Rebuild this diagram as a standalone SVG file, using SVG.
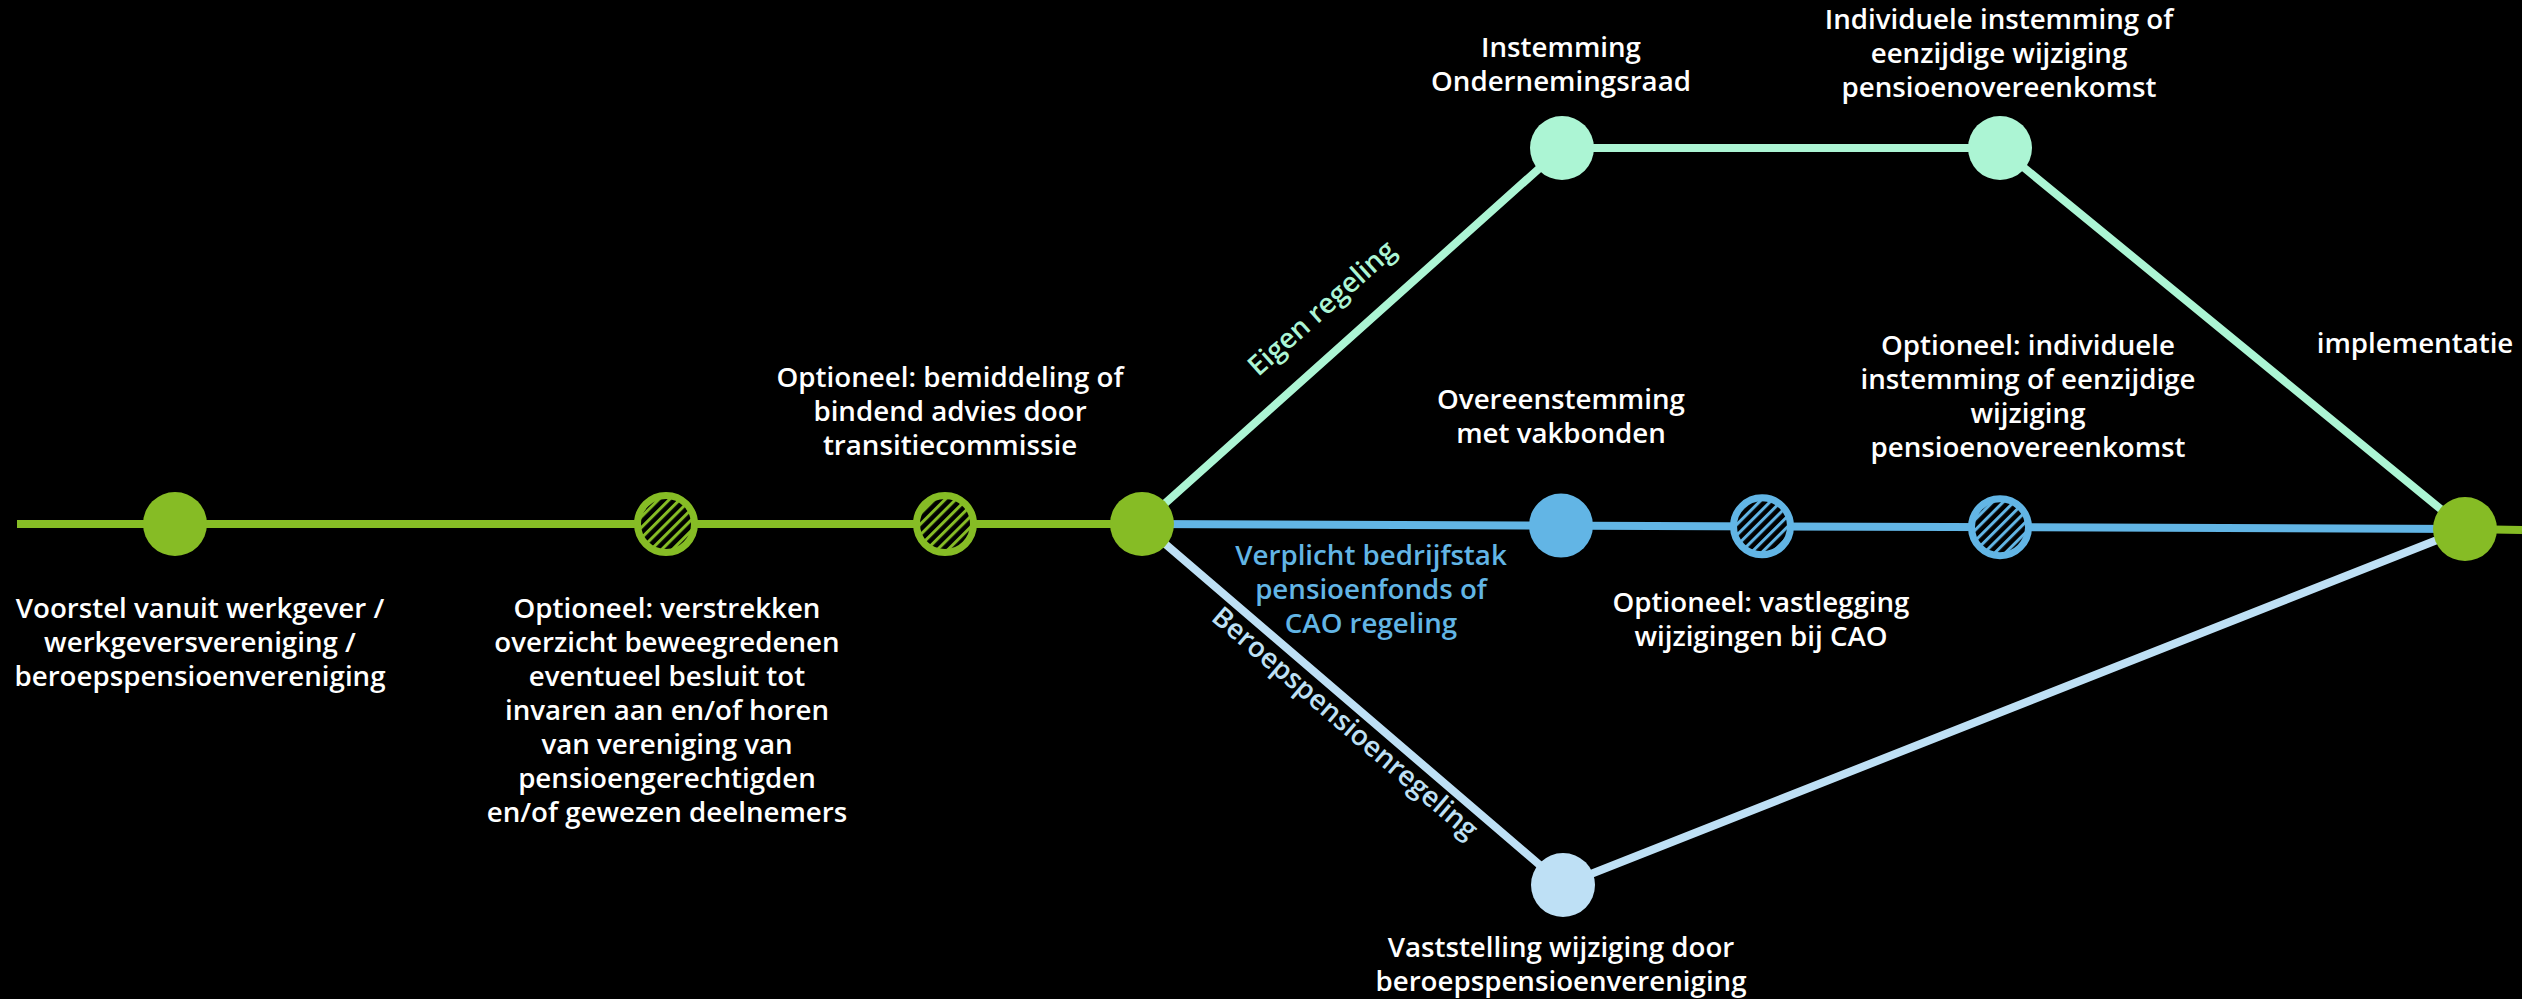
<svg xmlns="http://www.w3.org/2000/svg" width="2522" height="999" viewBox="0 0 2522 999">
  <defs>
    <style>
      .lbl { font-family: "Open Sans", "Liberation Sans", sans-serif; font-weight: 600; font-size: 27.7px; fill: #ffffff; text-anchor: middle; }
      .green { stroke: #86BC25; }
      .blue { stroke: #62B5E5; }
      .mint { stroke: #ACF5D4; }
      .sky { stroke: #BEE0F5; }
      .track { fill: none; stroke-width: 8; stroke-linejoin: round; }
      .ring { stroke-width: 7; }
    </style>
    <!-- diagonal stripes for optional steps -->
    <pattern id="hatch-green" patternUnits="userSpaceOnUse" width="7.5" height="7.5" patternTransform="rotate(45)">
      <rect width="7.5" height="7.5" fill="#000"/>
      <rect width="3" height="7.5" fill="#86BC25"/>
    </pattern>
    <pattern id="hatch-blue" patternUnits="userSpaceOnUse" width="7.5" height="7.5" patternTransform="rotate(45)">
      <rect width="7.5" height="7.5" fill="#000"/>
      <rect width="3" height="7.5" fill="#62B5E5"/>
    </pattern>
  </defs>

  <rect width="2522" height="999" fill="#000"/>

  <g id="connectors">
    <path class="track green" d="M17 524 H1142"/>
    <path class="track green" d="M2465 529 L2522 530"/>
    <path class="track blue" d="M1142 524 L2465 529"/>
    <path class="track mint" d="M1142 524 L1562 148 H2000 L2465 529"/>
    <path class="track sky" d="M1142 524 L1563 885 L2465 529"/>
    <text class="lbl" style="fill:#ACF5D4" transform="translate(1328 315) rotate(-41.8)">Eigen regeling</text>
    <text class="lbl" style="fill:#BEE0F5" transform="translate(1339 730) rotate(40.6)">Beroepspensioenregeling</text>
    <text class="lbl" style="fill:#62B5E5" x="1371" y="565">Verplicht bedrijfstak<tspan x="1371" dy="34">pensioenfonds of</tspan><tspan x="1371" dy="34">CAO regeling</tspan></text>
  </g>

  <g id="voorstel">
    <circle cx="175" cy="524" r="32" fill="#86BC25"/>
    <text class="lbl" x="200" y="618">Voorstel vanuit werkgever /<tspan x="200" dy="34">werkgeversvereniging /</tspan><tspan x="200" dy="34">beroepspensioenvereniging</tspan></text>
  </g>

  <g id="verstrekken-overzicht">
    <circle class="green ring" cx="666" cy="524" r="28.5" fill="url(#hatch-green)"/>
    <text class="lbl" x="667" y="618">Optioneel: verstrekken<tspan x="667" dy="34">overzicht beweegredenen</tspan><tspan x="667" dy="34">eventueel besluit tot</tspan><tspan x="667" dy="34">invaren aan en/of horen</tspan><tspan x="667" dy="34">van vereniging van</tspan><tspan x="667" dy="34">pensioengerechtigden</tspan><tspan x="667" dy="34">en/of gewezen deelnemers</tspan></text>
  </g>

  <g id="bemiddeling">
    <circle class="green ring" cx="945" cy="524" r="28.5" fill="url(#hatch-green)"/>
    <text class="lbl" x="950" y="387">Optioneel: bemiddeling of<tspan x="950" dy="34">bindend advies door</tspan><tspan x="950" dy="34">transitiecommissie</tspan></text>
  </g>

  <g id="splitsing">
    <circle cx="1142" cy="524" r="32" fill="#86BC25"/>
  </g>

  <g id="instemming-or">
    <circle cx="1562" cy="148" r="32" fill="#ACF5D4"/>
    <text class="lbl" x="1561" y="57">Instemming<tspan x="1561" dy="34">Ondernemingsraad</tspan></text>
  </g>

  <g id="individuele-instemming">
    <circle cx="2000" cy="148" r="32" fill="#ACF5D4"/>
    <text class="lbl" x="1999" y="29">Individuele instemming of<tspan x="1999" dy="34">eenzijdige wijziging</tspan><tspan x="1999" dy="34">pensioenovereenkomst</tspan></text>
  </g>

  <g id="overeenstemming-vakbonden">
    <circle cx="1561" cy="525.6" r="32" fill="#62B5E5"/>
    <text class="lbl" x="1561" y="409">Overeenstemming<tspan x="1561" dy="34">met vakbonden</tspan></text>
  </g>

  <g id="vastlegging-cao">
    <circle class="blue ring" cx="1762" cy="526.3" r="28.5" fill="url(#hatch-blue)"/>
    <text class="lbl" x="1761" y="612">Optioneel: vastlegging<tspan x="1761" dy="34">wijzigingen bij CAO</tspan></text>
  </g>

  <g id="optionele-instemming">
    <circle class="blue ring" cx="2000" cy="527.2" r="28.5" fill="url(#hatch-blue)"/>
    <text class="lbl" x="2028" y="355">Optioneel: individuele<tspan x="2028" dy="34">instemming of eenzijdige</tspan><tspan x="2028" dy="34">wijziging</tspan><tspan x="2028" dy="34">pensioenovereenkomst</tspan></text>
  </g>

  <g id="vaststelling">
    <circle cx="1563" cy="885" r="32" fill="#BEE0F5"/>
    <text class="lbl" x="1561" y="957">Vaststelling wijziging door<tspan x="1561" dy="34">beroepspensioenvereniging</tspan></text>
  </g>

  <g id="implementatie">
    <circle cx="2465" cy="529" r="32" fill="#86BC25"/>
    <text class="lbl" x="2415" y="353">implementatie</text>
  </g>
</svg>
